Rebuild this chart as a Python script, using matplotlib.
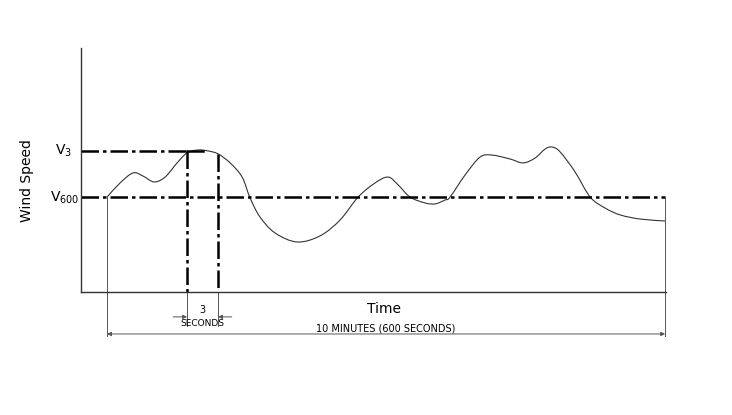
import matplotlib
matplotlib.use("Agg")
import matplotlib.pyplot as plt
from matplotlib.path import Path
from matplotlib.patches import PathPatch

# wind speed trace over the 10 minute window (time in s, speed in arbitrary units)
t = [0, 14.0, 28.0, 38.7, 50.5, 62.4, 75.3, 86.0, 97.8, 108.6, 119.4, 132.3,
     145.2, 153.8, 164.5, 180.6, 204.3, 229.0, 250.5, 269.9, 288.2, 302.2,
     312.9, 325.8, 341.9, 352.7, 363.4, 368.8, 385.0, 401.1, 414.0, 433.3,
     447.3, 460.2, 471.0, 478.5, 487.1, 503.2, 519.4, 535.5, 551.6, 573.1, 600]
speed = [3.89, 4.47, 4.88, 4.75, 4.51, 4.71, 5.29, 5.70, 5.82, 5.78, 5.66, 5.29,
         4.71, 3.85, 3.07, 2.42, 2.05, 2.30, 2.95, 3.89, 4.47, 4.71,
         4.39, 3.89, 3.65, 3.61, 3.77, 3.89, 4.80, 5.53, 5.61, 5.45,
         5.29, 5.49, 5.86, 5.94, 5.74, 4.92, 3.89, 3.44, 3.16, 2.99, 2.91]

v600 = 3.89
v3 = 5.78
gust_start, gust_end = 86.0, 119.4
gust_end_speed = 5.66
t_end = 600


def smooth_path(xs, ys):
    # Catmull-Rom through the read points, drawn as cubic bezier segments
    pts = list(zip(xs, ys))
    verts = [pts[0]]
    codes = [Path.MOVETO]
    for i in range(len(pts) - 1):
        p0 = pts[i - 1] if i > 0 else pts[i]
        p1, p2 = pts[i], pts[i + 1]
        p3 = pts[i + 2] if i + 2 < len(pts) else pts[i + 1]
        c1 = (p1[0] + (p2[0] - p0[0]) / 6, p1[1] + (p2[1] - p0[1]) / 6)
        c2 = (p2[0] - (p3[0] - p1[0]) / 6, p2[1] - (p3[1] - p1[1]) / 6)
        verts += [c1, c2, p2]
        codes += [Path.CURVE4] * 3
    return Path(verts, codes)


fig = plt.figure(figsize=(7.32, 4.15), dpi=100)
ax = fig.add_axes([0.1107, 0.2964, 0.7992, 0.588])
ax.set_xlim(-28, 601)
ax.set_ylim(0, 10)
for s in ["top", "right"]:
    ax.spines[s].set_visible(False)
for s in ["left", "bottom"]:
    ax.spines[s].set_color("#333333")
    ax.spines[s].set_linewidth(1.0)
ax.set_xticks([])
ax.set_yticks([])

dashdot = (0, (7, 1.6, 1.4, 1.6))
thick = dict(color="black", lw=1.8, linestyle=dashdot, clip_on=False)
thin = dict(color="#555555", lw=0.7, clip_on=False)

# the trace
ax.add_patch(PathPatch(smooth_path(t, speed), fill=False, edgecolor="#333333", lw=0.8))

# averages
ax.plot([-28, t_end], [v600, v600], **thick)
ax.plot([-28, gust_start], [v3, v3], **thick)
ax.plot([gust_start, 103], [v3, v3], color="black", lw=1.8)
ax.plot([gust_start, gust_start], [v3, 0], **thick)
ax.plot([gust_end, gust_end], [gust_end_speed, 0], **thick)

# dimension lines
y_big = -1.72
ax.plot([0, 0], [v600, -1.8], **thin)
ax.plot([t_end, t_end], [v600, -1.8], **thin)
ax.annotate("", xy=(0, y_big), xytext=(t_end, y_big), annotation_clip=False,
            arrowprops=dict(arrowstyle="<|-|>", color="#555555", lw=0.7,
                            mutation_scale=6, shrinkA=0, shrinkB=0))

y_small = -1.02
ax.plot([gust_start, gust_start], [0, -1.38], **thin)
ax.plot([gust_end, gust_end], [0, -1.38], **thin)
ax.annotate("", xy=(gust_start, y_small), xytext=(71, y_small), annotation_clip=False,
            arrowprops=dict(arrowstyle="-|>", color="#555555", lw=0.7,
                            mutation_scale=6, shrinkA=0, shrinkB=0))
ax.annotate("", xy=(gust_end, y_small), xytext=(134, y_small), annotation_clip=False,
            arrowprops=dict(arrowstyle="-|>", color="#555555", lw=0.7,
                            mutation_scale=6, shrinkA=0, shrinkB=0))

narrow = ["Liberation Sans Narrow", "DejaVu Sans"]
ax.text((gust_start + gust_end) / 2, -0.72, "3", ha="center", va="center",
        fontsize=7, family=narrow, clip_on=False)
ax.text((gust_start + gust_end) / 2, -1.28, "SECONDS", ha="center", va="center",
        fontsize=6.5, family=narrow, clip_on=False)
ax.text(300, -1.5, "10 MINUTES (600 SECONDS)", ha="center", va="center",
        fontsize=7, family=narrow, clip_on=False)
ax.text(298, -0.7, "Time", ha="center", va="center", fontsize=10, clip_on=False)

ax.text(-56, v3, "V$_3$", ha="left", va="center", fontsize=10, clip_on=False)
ax.text(-61, v600 - 0.05, "V$_{600}$", ha="left", va="center", fontsize=10, clip_on=False)
fig.text(0.037, 0.565, "Wind Speed", rotation=90, ha="center", va="center", fontsize=10)

fig.savefig("out.png", dpi=100)
